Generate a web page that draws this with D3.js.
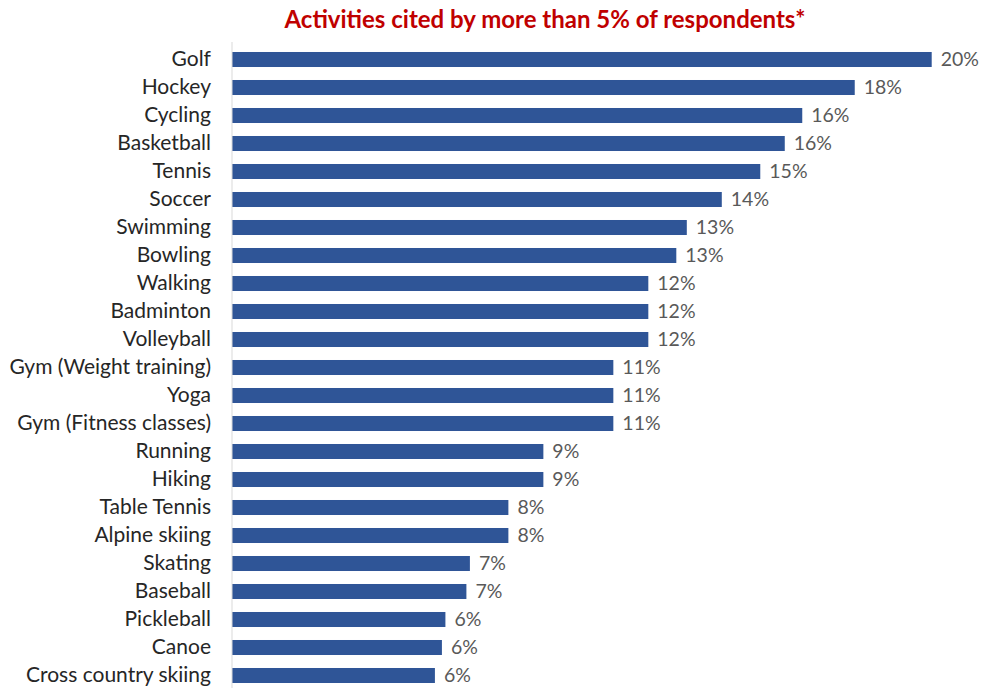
<!DOCTYPE html>
<html>
<head>
<meta charset="utf-8">
<script src="https://cdn.jsdelivr.net/npm/d3@7"></script>
<style>
  html, body { margin: 0; padding: 0; background: #ffffff; }
  svg { display: block; }
  text { font-family: Lato, "Open Sans", sans-serif; }
</style>
</head>
<body>
<svg id="chart" width="984" height="688"></svg>
<script>
// Activities and share of respondents citing them (%)
const activities = [
  "Golf", "Hockey", "Cycling", "Basketball", "Tennis", "Soccer", "Swimming",
  "Bowling", "Walking", "Badminton", "Volleyball", "Gym (Weight training)",
  "Yoga", "Gym (Fitness classes)", "Running", "Hiking", "Table Tennis",
  "Alpine skiing", "Skating", "Baseball", "Pickleball", "Canoe",
  "Cross country skiing"
];
const shares = [
  20.0, 17.8, 16.3, 15.8, 15.1, 14.0, 13.0,
  12.7, 11.9, 11.9, 11.9, 10.9,
  10.9, 10.9, 8.9, 8.9, 7.9,
  7.9, 6.8, 6.7, 6.1, 6.0,
  5.8
];
const title = "Activities cited by more than 5% of respondents*";

const data = activities.map((name, i) => ({ name, value: shares[i] }));

const svg = d3.select("#chart");

const x = d3.scaleLinear().domain([0, 20]).range([232, 931.7]);
const y = d3.scaleBand()
  .domain(activities)
  .range([45.5, 689.5])
  .paddingInner(0.464)
  .paddingOuter(0.232);

// Title
svg.append("text")
  .attr("x", 545)
  .attr("y", 28)
  .attr("text-anchor", "middle")
  .attr("fill", "#c00000")
  .attr("font-size", 24)
  .attr("font-weight", "bold")
  .text(title);

// Bars
svg.append("g")
  .selectAll("rect")
  .data(data)
  .join("rect")
  .attr("x", x(0))
  .attr("y", d => y(d.name))
  .attr("width", d => x(d.value) - x(0))
  .attr("height", y.bandwidth())
  .attr("fill", "#2f5597");

// Category axis (left)
const yAxis = d3.axisLeft(y).tickSize(0).tickPadding(21);
const gy = svg.append("g")
  .attr("transform", `translate(${x(0)},0)`)
  .call(yAxis);
gy.select(".domain")
  .attr("stroke", "#d9d9d9")
  .attr("stroke-width", 1)
  .attr("d", "M0,42V688");
gy.selectAll("text")
  .attr("font-size", 21)
  .attr("fill", "#262626")
  .style("font-family", "Lato, 'Open Sans', sans-serif");

// Value labels
svg.append("g")
  .selectAll("text")
  .data(data)
  .join("text")
  .attr("x", d => x(d.value) + 9)
  .attr("y", d => y(d.name) + y.bandwidth() / 2)
  .attr("dy", "0.35em")
  .attr("font-size", 19.5)
  .attr("fill", "#595959")
  .text(d => d3.format(".0f")(d.value) + "%");
</script>
</body>
</html>
